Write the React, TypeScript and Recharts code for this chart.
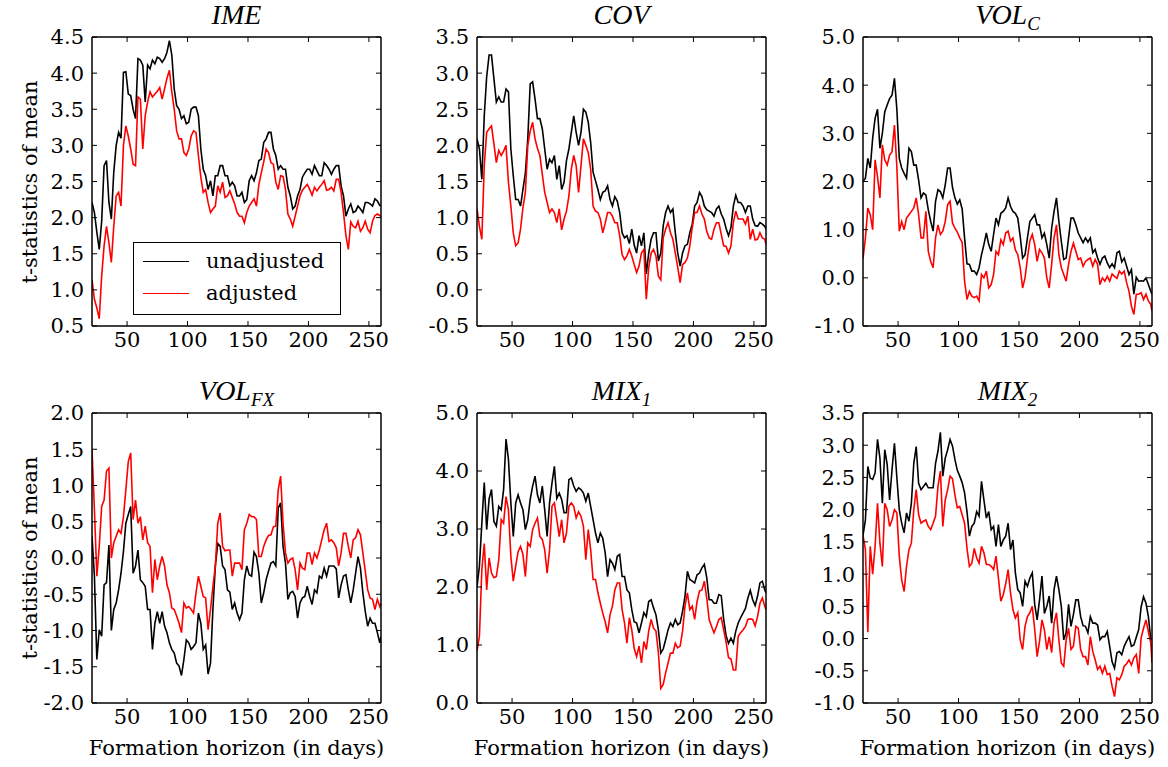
import React from 'react';
import { LineChart, Line, XAxis, YAxis } from 'recharts';

// formation horizons (days), sampled every 2 days
const days = [
  21, 23, 25, 27, 29, 31, 33, 35, 37, 39,
  41, 43, 45, 47, 49, 51, 53, 55, 57, 59,
  61, 63, 65, 67, 69, 71, 73, 75, 77, 79,
  81, 83, 85, 87, 89, 91, 93, 95, 97, 99,
  101, 103, 105, 107, 109, 111, 113, 115, 117, 119,
  121, 123, 125, 127, 129, 131, 133, 135, 137, 139,
  141, 143, 145, 147, 149, 151, 153, 155, 157, 159,
  161, 163, 165, 167, 169, 171, 173, 175, 177, 179,
  181, 183, 185, 187, 189, 191, 193, 195, 197, 199,
  201, 203, 205, 207, 209, 211, 213, 215, 217, 219,
  221, 223, 225, 227, 229, 231, 233, 235, 237, 239,
  241, 243, 245, 247, 249, 251, 253, 255, 257, 259,
  260,
];
const xTicks = [50, 100, 150, 200, 250];

const imeUnadj = [
  2.21, 2.07, 1.8, 1.56, 1.95, 2.72, 2.79, 2.21, 1.98, 2.63,
  3.0, 3.18, 3.1, 4.01, 4.02, 3.71, 3.69, 3.5, 3.37, 4.2,
  4.18, 4.11, 3.6, 4.11, 4.06, 4.18, 4.13, 4.22, 4.2, 4.15,
  4.2, 4.29, 4.45, 4.25, 3.78, 3.55, 3.5, 3.37, 3.41, 3.3,
  3.32, 3.5, 3.53, 3.53, 3.41, 2.95, 2.67, 2.58, 2.39, 2.51,
  2.3, 2.58, 2.58, 2.72, 2.72, 2.58, 2.58, 2.44, 2.49, 2.44,
  2.3, 2.3, 2.35, 2.21, 2.25, 2.51, 2.58, 2.51, 2.62, 2.79,
  2.81, 3.04, 3.09, 3.18, 3.18, 2.95, 2.86, 2.67, 2.72, 2.67,
  2.67, 2.42, 2.3, 2.12, 2.16, 2.3, 2.39, 2.56, 2.62, 2.67,
  2.67, 2.6, 2.72, 2.65, 2.58, 2.58, 2.76, 2.72, 2.67, 2.6,
  2.67, 2.72, 2.72, 2.44, 2.3, 2.02, 2.12, 2.19, 2.07, 2.09,
  2.16, 2.12, 2.07, 2.21, 2.21, 2.19, 2.16, 2.26, 2.23, 2.17,
  2.16,
];
const imeAdj = [
  1.14, 0.87, 0.75, 0.6, 1.19, 1.61, 1.88, 1.65, 1.38, 1.88,
  2.3, 2.35, 2.16, 3.0, 3.27, 3.13, 2.95, 2.74, 2.72, 3.67,
  3.64, 2.95, 3.41, 3.6, 3.74, 3.67, 3.71, 3.75, 3.8, 3.64,
  3.78, 3.93, 4.04, 3.74, 3.5, 3.2, 3.09, 3.09, 2.9, 2.86,
  2.95, 3.13, 3.2, 3.18, 2.86, 2.56, 2.35, 2.39, 2.21, 2.07,
  2.12, 2.16, 2.44, 2.35, 2.49, 2.28, 2.3, 2.37, 2.28, 2.19,
  2.07, 2.02, 2.02, 1.93, 2.07, 2.16, 2.21, 2.26, 2.16, 2.46,
  2.62, 2.77, 2.95, 2.9, 2.76, 2.74, 2.49, 2.39, 2.58, 2.57,
  2.39, 2.05, 1.98, 1.88, 2.02, 2.16, 2.3, 2.38, 2.42, 2.46,
  2.39, 2.31, 2.42, 2.37, 2.42, 2.46, 2.51, 2.38, 2.39, 2.42,
  2.37, 2.53, 2.53, 2.35, 2.07, 1.75, 1.56, 1.94, 1.88, 1.86,
  1.95, 1.81, 1.86, 1.95, 1.84, 1.79, 1.95, 2.03, 2.05, 2.03,
  2.02,
];

const covUnadj = [
  2.09, 1.95, 1.53, 2.41, 2.95, 3.25, 3.25, 2.92, 2.6, 2.67,
  2.6, 2.6, 2.78, 2.74, 1.95, 1.58, 1.25, 1.25, 1.16, 1.39,
  1.62, 2.09, 2.85, 2.88, 2.64, 2.37, 2.37, 2.23, 1.95, 1.67,
  1.81, 1.76, 1.86, 1.53, 1.72, 1.39, 1.49, 1.79, 1.95, 2.18,
  2.41, 2.18, 2.0, 2.18, 2.5, 2.46, 2.32, 2.04, 1.63, 1.51,
  1.39, 1.25, 1.35, 1.37, 1.44, 1.25, 1.16, 1.29, 1.23, 1.07,
  0.79, 0.72, 0.75, 0.64, 0.84, 0.62, 0.51, 0.75, 0.61, 0.79,
  0.22, 0.51, 0.7, 0.79, 0.79, 0.4, 0.51, 0.89, 1.07, 1.16,
  1.07, 1.12, 0.79, 0.51, 0.33, 0.51, 0.61, 0.63, 0.79, 0.91,
  1.16, 1.21, 1.35, 1.29, 1.16, 1.11, 1.09, 1.07, 1.02, 1.12,
  1.16, 1.05, 0.98, 0.85, 0.75, 0.86, 1.16, 1.31, 1.21, 1.21,
  1.16, 1.07, 1.16, 1.16, 0.98, 0.89, 0.88, 0.93, 0.91, 0.88,
  0.84,
];
const covAdj = [
  1.12, 0.88, 0.7, 1.72, 2.18, 2.23, 2.27, 2.02, 1.76, 1.93,
  1.86, 1.92, 2.0, 1.49, 1.16, 0.79, 0.61, 0.65, 0.84, 1.14,
  1.35, 2.0, 2.2, 2.32, 2.09, 1.96, 1.86, 1.6, 1.35, 1.21,
  1.07, 1.12, 1.07, 0.93, 1.12, 0.83, 0.98, 1.09, 1.3, 1.67,
  1.86, 1.72, 1.35, 1.72, 2.09, 2.0, 1.9, 1.67, 1.16, 1.09,
  1.07, 0.98, 0.79, 0.92, 1.07, 1.07, 1.02, 0.93, 0.93, 0.75,
  0.49, 0.42, 0.47, 0.56, 0.47, 0.35, 0.24, 0.33, 0.51, 0.56,
  -0.13, 0.31, 0.51, 0.56, 0.47, 0.19, 0.14, 0.72, 0.84, 0.93,
  0.79, 0.7, 0.51, 0.31, 0.1, 0.35, 0.38, 0.44, 0.61, 0.86,
  1.07, 1.07, 1.16, 1.05, 0.98, 0.81, 0.72, 0.7, 0.84, 0.93,
  0.93, 0.77, 0.61, 0.6, 0.51, 0.61, 0.93, 1.09, 0.98, 0.98,
  0.98, 0.91, 1.02, 0.7, 0.84, 0.69, 0.7, 0.79, 0.72, 0.7,
  0.63,
];

const volcUnadj = [
  2.0, 2.07, 2.48, 2.28, 2.9, 3.31, 3.5, 2.69, 3.0, 3.45,
  3.59, 3.72, 3.79, 4.14, 3.5, 2.48, 2.28, 2.17, 2.07, 2.69,
  2.62, 2.34, 2.34, 2.03, 1.66, 1.76, 1.72, 1.41, 1.17, 0.97,
  1.59, 1.83, 1.79, 1.66, 1.93, 2.28, 2.28, 1.88, 1.66, 1.53,
  1.62, 1.43, 0.83, 0.29, 0.28, 0.14, 0.14, 0.07, 0.21, 0.48,
  0.69, 0.93, 0.69, 0.55, 0.9, 1.24, 1.1, 1.34, 1.38, 1.45,
  1.66, 1.48, 1.38, 1.34, 1.24, 0.86, 0.41, 0.48, 0.83, 1.17,
  1.24, 1.31, 1.1, 1.1, 0.83, 0.93, 0.69, 0.41, 1.03, 1.38,
  1.66, 1.17, 0.76, 0.38, 0.41, 0.83, 1.24, 1.24, 1.1, 0.93,
  0.83, 0.73, 0.83, 0.74, 0.83, 0.52, 0.59, 0.41, 0.28, 0.41,
  0.45, 0.31, 0.21, 0.29, 0.21, 0.52, 0.55, 0.33, 0.41, 0.24,
  0.07, 0.17, -0.34, 0.01, -0.07, -0.06, -0.07, 0.0, -0.14, -0.28,
  -0.34,
];
const volcAdj = [
  0.4, 0.83, 1.45, 1.31, 1.0, 2.45, 2.1, 1.66, 2.76, 2.45,
  2.34, 2.55, 2.62, 3.17, 2.3, 0.97, 1.17, 1.0, 1.24, 1.31,
  1.38, 1.45, 1.66, 1.31, 0.83, 0.83, 1.38, 0.55, 0.34, 0.21,
  0.83, 1.1, 0.9, 0.97, 1.17, 1.52, 1.59, 1.14, 1.03, 0.95,
  0.83, 0.74, -0.07, -0.45, -0.28, -0.38, -0.41, -0.38, -0.48, 0.07,
  0.0, 0.14, -0.21, -0.14, 0.07, 0.55, 0.48, 0.79, 0.69, 0.93,
  0.97, 0.76, 0.83, 0.58, 0.48, 0.21, -0.21, 0.0, 0.41, 0.77,
  0.9, 0.69, 0.34, 0.59, 0.52, 0.41, 0.0, -0.21, 0.28, 0.83,
  1.1, 0.48, 0.21, 0.07, -0.07, 0.28, 0.55, 0.72, 0.55, 0.38,
  0.41, 0.24, 0.34, 0.38, 0.41, 0.24, 0.38, 0.28, -0.14, 0.0,
  -0.07, 0.03, -0.07, 0.08, 0.03, -0.01, 0.14, 0.08, 0.14, -0.1,
  -0.28, -0.59, -0.76, -0.34, -0.34, -0.31, -0.45, -0.34, -0.48, -0.55,
  -0.69,
];

const volfxUnadj = [
  0.3, -0.25, -1.4, -0.99, -1.08, -0.37, -0.34, 0.18, -1.0, -0.71,
  -0.62, -0.44, -0.21, 0.09, 0.48, 0.6, 0.71, -0.21, -0.11, 0.11,
  -0.3, -0.34, -0.39, -0.71, -0.71, -1.26, -0.9, -0.74, -0.9, -0.74,
  -0.94, -1.03, -1.17, -1.26, -1.31, -1.45, -1.49, -1.62, -1.4, -1.13,
  -1.17, -1.26, -1.22, -1.17, -0.76, -0.9, -1.26, -1.2, -1.6, -1.45,
  -0.7, -0.11, 0.2, 0.16, -0.11, -0.16, -0.44, -0.47, -0.71, -0.62,
  -0.76, -0.85, -0.76, -0.3, -0.11, -0.23, -0.25, 0.08, 0.02, -0.21,
  -0.62, -0.48, -0.3, -0.18, -0.07, -0.05, -0.11, 0.69, 0.76, 0.16,
  -0.07, -0.57, -0.48, -0.46, -0.53, -0.83, -0.62, -0.55, -0.53, -0.39,
  -0.53, -0.64, -0.44, -0.48, -0.25, -0.28, -0.14, -0.25, -0.11, -0.11,
  -0.11, -0.15, -0.55, -0.37, -0.25, -0.23, -0.44, -0.62, -0.44, -0.21,
  0.02, -0.14, -0.48, -0.74, -0.94, -0.83, -0.9, -0.9, -1.03, -1.17,
  -1.08,
];
const volfxAdj = [
  1.5, 0.67, -0.25, 0.16, 0.71, 0.8, 1.2, 1.24, 0.0, 0.21,
  0.3, 0.39, 0.34, 0.57, 0.94, 1.33, 1.45, 0.53, 0.8, 0.48,
  0.57, 0.25, 0.44, 0.21, 0.16, -0.48, -0.02, -0.3, -0.11, 0.02,
  -0.11, -0.37, -0.48, -0.69, -0.71, -0.8, -0.9, -1.03, -0.62, -0.69,
  -0.67, -0.71, -0.76, -0.48, -0.25, -0.39, -0.53, -0.55, -0.99, -0.71,
  -0.39, -0.11, 0.48, 0.62, 0.16, 0.1, 0.11, 0.11, -0.25, -0.07,
  -0.07, -0.07, -0.16, 0.39, 0.48, 0.6, 0.57, 0.57, 0.53, 0.02,
  0.02, 0.16, 0.25, 0.31, 0.32, 0.43, 0.44, 0.94, 1.13, 0.48,
  0.07, -0.07, -0.02, 0.0, -0.16, -0.44, -0.07, -0.14, -0.16, 0.07,
  0.07, -0.09, 0.07, 0.0, 0.11, 0.25, 0.39, 0.48, 0.23, 0.25,
  0.21, 0.14, -0.11, 0.07, 0.34, 0.34, 0.16, 0.0, 0.25, 0.28,
  0.39, 0.32, 0.07, -0.18, -0.44, -0.55, -0.57, -0.71, -0.57, -0.67,
  -0.62,
];

const mix1Unadj = [
  2.0, 2.36, 3.1, 3.8, 2.99, 3.52, 3.68, 3.13, 3.05, 3.39,
  3.33, 3.68, 4.55, 4.2, 3.45, 2.87, 3.45, 3.59, 3.45, 3.33,
  2.99, 3.16, 3.51, 3.74, 3.91, 3.59, 3.45, 3.74, 3.33, 2.87,
  3.45, 3.79, 4.08, 3.53, 3.62, 3.51, 3.28, 3.28, 3.85, 3.88,
  3.74, 3.65, 3.71, 3.68, 3.62, 3.48, 3.62, 3.39, 3.16, 2.93,
  2.76, 2.93, 2.84, 2.59, 2.18, 2.47, 2.41, 2.3, 2.53, 2.56,
  2.18, 2.18, 1.95, 1.9, 1.61, 1.4, 1.38, 1.21, 1.38, 1.56,
  1.49, 1.75, 1.78, 1.64, 1.52, 1.26, 0.86, 0.93, 1.09, 1.26,
  1.38, 1.32, 1.44, 1.35, 1.38, 1.58, 1.84, 2.27, 2.13, 2.1,
  2.07, 2.21, 2.24, 2.33, 2.39, 2.16, 1.78, 1.78, 1.72, 1.72,
  1.87, 1.85, 1.44, 1.16, 1.03, 1.12, 1.03, 1.24, 1.38, 1.47,
  1.55, 1.63, 1.81, 1.94, 1.78, 1.68, 1.84, 2.07, 2.1, 1.95,
  1.9,
];
const mix1Adj = [
  0.9, 1.15, 2.3, 2.75, 1.95, 2.5, 2.24, 2.16, 2.18, 2.47,
  3.16, 3.1, 3.56, 3.33, 2.53, 2.1, 2.36, 2.61, 2.7, 2.56,
  2.18, 2.76, 2.7, 2.99, 3.1, 3.19, 2.87, 2.82, 2.64, 2.24,
  2.64, 3.39, 3.45, 3.16, 2.87, 3.16, 2.76, 2.93, 3.39, 3.45,
  3.39, 3.19, 3.3, 3.22, 3.05, 2.47, 2.99, 2.64, 2.13, 2.13,
  1.9, 1.72, 1.55, 1.4, 1.21, 1.52, 1.67, 1.95, 2.07, 2.07,
  1.61, 1.38, 1.03, 1.47, 1.26, 0.94, 0.8, 0.98, 0.69, 1.06,
  0.92, 1.24, 1.44, 1.29, 1.24, 0.87, 0.25, 0.32, 0.52, 0.69,
  0.86, 0.86, 1.03, 0.95, 0.98, 1.24, 1.67, 1.9, 1.61, 1.67,
  1.44, 1.75, 1.93, 1.95, 2.1, 1.81, 1.44, 1.32, 1.21, 1.32,
  1.44, 1.47, 1.26, 1.05, 0.78, 0.76, 0.57, 0.57, 1.15, 1.21,
  1.26, 1.32, 1.44, 1.45, 1.44, 1.33, 1.49, 1.72, 1.81, 1.67,
  1.61,
];

const mix2Unadj = [
  1.6, 1.84, 2.67, 2.49, 2.47, 2.57, 3.09, 2.8, 2.1, 2.93,
  2.7, 2.15, 2.62, 3.03, 2.5, 2.0, 1.79, 1.64, 1.95, 1.82,
  2.1, 2.72, 2.98, 2.41, 2.31, 2.36, 2.41, 2.34, 2.34, 2.34,
  2.72, 2.91, 3.2, 2.52, 2.8, 2.93, 3.09, 2.99, 2.78, 2.61,
  2.52, 2.42, 2.26, 1.97, 1.59, 1.74, 1.79, 1.97, 1.9, 2.44,
  2.15, 1.87, 1.97, 1.69, 1.74, 1.43, 1.77, 1.43, 1.53, 1.59,
  1.79, 1.38, 1.53, 1.02, 0.76, 0.71, 0.5, 0.89, 0.81, 0.94,
  1.02, 0.53, 0.29, 0.6, 0.97, 0.39, 0.5, 0.66, 0.24, 0.76,
  0.97, 0.76, 0.5, -0.02, 0.09, 0.53, 0.19, 0.37, 0.6, 0.6,
  0.34, 0.2, 0.19, 0.09, 0.34, 0.24, 0.24, 0.21, -0.02, 0.03,
  0.03, 0.11, -0.12, -0.36, -0.46, -0.22, -0.2, -0.25, -0.12, -0.04,
  0.03, -0.12, -0.1, 0.02, 0.14, 0.49, 0.65, 0.55, 0.34, -0.02,
  0.01,
];
const mix2Adj = [
  1.6, 1.38, 0.1, 1.43, 1.0, 1.43, 2.1, 1.48, 1.12, 2.1,
  2.0, 1.74, 1.84, 2.0, 1.95, 1.28, 0.91, 0.73, 1.12, 1.38,
  1.48, 2.0, 2.31, 1.92, 1.79, 1.82, 1.84, 1.74, 1.69, 1.79,
  1.9, 2.36, 2.6, 1.74, 2.15, 2.31, 2.52, 2.48, 2.23, 2.03,
  2.05, 1.92, 1.79, 1.4, 1.12, 1.17, 1.4, 1.25, 1.17, 1.43,
  1.33, 1.15, 1.15, 1.12, 1.07, 1.28, 0.94, 0.58, 0.68, 0.85,
  1.07, 0.71, 0.45, 0.32, 0.4, -0.02, -0.17, 0.19, 0.34, 0.4,
  0.5, 0.14, -0.28, -0.04, 0.29, 0.14, -0.17, 0.03, -0.22, 0.24,
  0.4, -0.02, -0.38, -0.43, -0.02, 0.16, -0.17, -0.12, 0.19, 0.16,
  -0.17, -0.28, -0.28, -0.41, 0.03, -0.2, -0.33, -0.48, -0.43, -0.54,
  -0.43, -0.56, -0.54, -0.74, -0.9, -0.61, -0.64, -0.56, -0.43, -0.39,
  -0.33, -0.41, -0.3, -0.25, -0.54, 0.01, 0.16, 0.29, 0.11, -0.07,
  -0.38,
];

const ticksIme = [0.5, 1.0, 1.5, 2.0, 2.5, 3.0, 3.5, 4.0, 4.5];
const ticksCov = [-0.5, 0.0, 0.5, 1.0, 1.5, 2.0, 2.5, 3.0, 3.5];
const ticksVolc = [-1, 0, 1, 2, 3, 4, 5];
const ticksVolfx = [-2.0, -1.5, -1.0, -0.5, 0.0, 0.5, 1.0, 1.5, 2.0];
const ticksMix1 = [0, 1, 2, 3, 4, 5];
const ticksMix2 = [-1.0, -0.5, 0.0, 0.5, 1.0, 1.5, 2.0, 2.5, 3.0, 3.5];

const SERIF = '"DejaVu Serif", serif';
const FS = 21;
const PW = 289;
const ML = 70;
const MT = 40;
const MR = 10;
const MB = 50;

interface PanelProps {
  title: React.ReactNode;
  left: number;
  top: number;
  ph: number;
  unadj: number[];
  adj: number[];
  ticks: number[];
  legend?: boolean;
  xLabel?: boolean;
  yLabel?: boolean;
}

const tickStyle = { fill: '#000', fontSize: FS, fontFamily: SERIF };
const frame = { stroke: '#000', strokeWidth: 1.5 };
const tickLn = { stroke: '#000', strokeWidth: 1 };
const blank = () => '';

const Panel: React.FC<PanelProps> = ({ title, left, top, ph, unadj, adj, ticks, legend, xLabel, yLabel }) => {
  const rows = days.map((d, i) => ({ d, u: unadj[i], a: adj[i] }));
  const domain: [number, number] = [ticks[0], ticks[ticks.length - 1]];
  return (
    <>
      <div style={{ position: 'absolute', left: left - ML, top: top - MT }}>
        <LineChart width={ML + PW + MR} height={MT + ph + MB} data={rows}
          margin={{ top: MT - 1, right: MR - 1, bottom: 0, left: 10 }}>
          <XAxis xAxisId="b" type="number" dataKey="d" domain={[21, 260]} ticks={xTicks} interval={0}
            height={MB} tickSize={-5} tickMargin={11} tick={tickStyle}
            axisLine={frame} tickLine={tickLn} allowDataOverflow />
          <XAxis xAxisId="t" orientation="top" type="number" dataKey="d" domain={[21, 260]} ticks={xTicks} interval={0}
            height={1} tickSize={-5} tickFormatter={blank}
            axisLine={frame} tickLine={tickLn} allowDataOverflow />
          <YAxis yAxisId="l" type="number" domain={domain} ticks={ticks} interval={0} width={60}
            tickSize={-5} tickMargin={13} tick={tickStyle} tickFormatter={(v: number) => v.toFixed(1)}
            axisLine={frame} tickLine={tickLn} allowDataOverflow />
          <YAxis yAxisId="r" orientation="right" type="number" domain={domain} ticks={ticks} interval={0} width={1}
            tickSize={-5} tickFormatter={blank}
            axisLine={frame} tickLine={tickLn} allowDataOverflow />
          <Line xAxisId="b" yAxisId="l" type="linear" dataKey="u" stroke="#000000" strokeWidth={1.6} dot={false} isAnimationActive={false} />
          <Line xAxisId="b" yAxisId="l" type="linear" dataKey="a" stroke="#ff0000" strokeWidth={1.6} dot={false} isAnimationActive={false} />
        </LineChart>
      </div>
      <div style={{ position: 'absolute', left, top: top - 38, width: PW, textAlign: 'center',
        fontFamily: '"Liberation Serif", serif', fontStyle: 'italic', fontSize: 28, lineHeight: '32px', color: '#000' }}>
        {title}
      </div>
      {yLabel && (
        <div style={{ position: 'absolute', left: 30, top: top + ph / 2, transform: 'translate(-50%, -50%) rotate(-90deg)',
          whiteSpace: 'nowrap', fontFamily: SERIF, fontSize: FS, color: '#000' }}>
          t-statistics of mean
        </div>
      )}
      {xLabel && (
        <div style={{ position: 'absolute', left: left + PW / 2, top: 748, transform: 'translate(-50%, -50%)',
          whiteSpace: 'nowrap', fontFamily: SERIF, fontSize: FS, color: '#000' }}>
          Formation horizon (in days)
        </div>
      )}
      {legend && (
        <div style={{ position: 'absolute', left: 133, top: 242, width: 206, height: 71, border: '1px solid #000',
          background: '#fff', fontFamily: SERIF, fontSize: FS, color: '#000' }}>
          {[{ c: '#000000', t: 'unadjusted' }, { c: '#ff0000', t: 'adjusted' }].map((e, k) => (
            <div key={k} style={{ position: 'absolute', left: 0, top: 6 + k * 32, height: 24, display: 'flex', alignItems: 'center' }}>
              <div style={{ marginLeft: 9, width: 46, height: 0, borderTop: `1.6px solid ${e.c}` }} />
              <span style={{ marginLeft: 17 }}>{e.t}</span>
            </div>
          ))}
        </div>
      )}
    </>
  );
};

const sub = (s: string) => <sub style={{ fontSize: 19, verticalAlign: -6 }}>{s}</sub>;

export default function App() {
  return (
    <div style={{ position: 'absolute', left: 0, top: 0, width: 1168, height: 767, background: '#fff', overflow: 'hidden' }}>
      <Panel title="IME" left={92} top={37} ph={289} unadj={imeUnadj} adj={imeAdj} ticks={ticksIme} legend yLabel />
      <Panel title="COV" left={477} top={37} ph={289} unadj={covUnadj} adj={covAdj} ticks={ticksCov} />
      <Panel title={<>VOL{sub('C')}</>} left={863} top={37} ph={289} unadj={volcUnadj} adj={volcAdj} ticks={ticksVolc} />
      <Panel title={<>VOL{sub('FX')}</>} left={92} top={413} ph={290} unadj={volfxUnadj} adj={volfxAdj} ticks={ticksVolfx} xLabel yLabel />
      <Panel title={<>MIX{sub('1')}</>} left={477} top={413} ph={290} unadj={mix1Unadj} adj={mix1Adj} ticks={ticksMix1} xLabel />
      <Panel title={<>MIX{sub('2')}</>} left={863} top={413} ph={290} unadj={mix2Unadj} adj={mix2Adj} ticks={ticksMix2} xLabel />
    </div>
  );
}
